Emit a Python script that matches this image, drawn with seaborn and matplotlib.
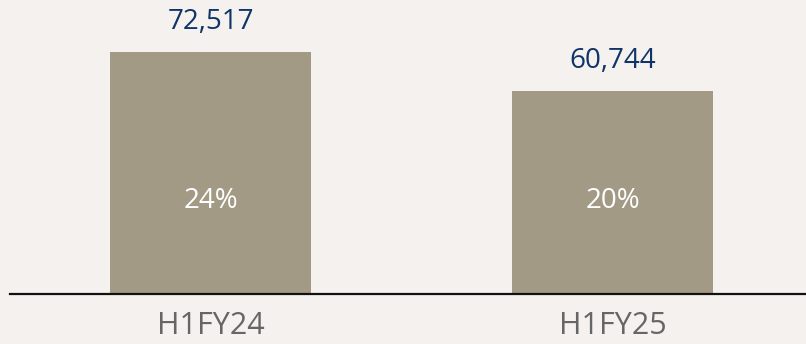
import matplotlib
matplotlib.use("Agg")
import matplotlib.pyplot as plt
import seaborn as sns
import pandas as pd

categories = ["H1FY24", "H1FY25"]
values = [72517, 60744]
shares = ["24%", "20%"]

bg = "#f5f1ee"
bar_color = "#a39a86"
navy = "#0f3468"

sns.set_theme(style="white")
plt.rcParams["font.family"] = ["Open Sans", "DejaVu Sans"]

df = pd.DataFrame({"period": categories, "value": values})

fig = plt.figure(figsize=(8.06, 3.44), dpi=100, facecolor=bg)
ax = fig.add_axes([10/806, 1 - 294/344, 796/806, 294/344])
ax.set_facecolor(bg)

sns.barplot(data=df, x="period", y="value", color=bar_color, width=0.5,
            saturation=1, linewidth=0, edgecolor=bar_color, ax=ax)

ymax = 72517 * 294 / 242
ax.set_xlim(-0.4988, 1.4813)
ax.set_ylim(0, ymax)

for i, (v, s) in enumerate(zip(values, shares)):
    ax.annotate(f"{v:,}", (i, v), xytext=(0, 16.5), textcoords="offset points",
                ha="center", va="baseline", color=navy, fontsize=20)
    ax.text(i, ymax * (294 - 201) / 294, s, ha="center", va="center",
            color="white", fontsize=20)

for side in ["top", "right", "left"]:
    ax.spines[side].set_visible(False)
ax.spines["bottom"].set_color("#111111")
ax.spines["bottom"].set_linewidth(1.6)
ax.set_yticks([])
ax.set_xlabel("")
ax.set_ylabel("")
ax.tick_params(axis="x", length=0, pad=12, labelsize=22, labelcolor="#666666")

fig.savefig("out.png", dpi=100, facecolor=bg)
